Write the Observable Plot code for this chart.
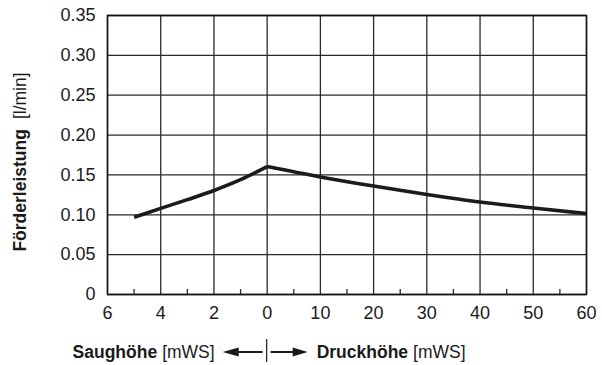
<!DOCTYPE html>
<html>
<head>
<meta charset="utf-8">
<script src="https://cdn.jsdelivr.net/npm/d3@7"></script>
<script src="https://cdn.jsdelivr.net/npm/@observablehq/plot@0.6"></script>
<style>
  html, body { margin: 0; padding: 0; background: #fff; }
  svg { font-family: "Liberation Sans", Arial, sans-serif; }
</style>
</head>
<body>
<div id="chart"></div>
<script>
// Suction side (Saughöhe, mWS) and delivery rate (l/min)
const suctionHead = [5, 4, 3, 2, 1, 0];
const suctionFlow = [0.097, 0.108, 0.119, 0.1305, 0.144, 0.1605];
// Pressure side (Druckhöhe, mWS)
const pressureHead = [0, 10, 20, 30, 40, 50, 60];
const pressureFlow = [0.1605, 0.1475, 0.136, 0.1255, 0.116, 0.1085, 0.1015];

const suctionTicks = [6, 4, 2, 0];
const pressureTicks = [10, 20, 30, 40, 50, 60];
const yTicks = [0, 0.05, 0.10, 0.15, 0.20, 0.25, 0.30, 0.35];

// Each grid interval = 2 mWS on the suction side, 10 mWS on the pressure side
const posS = s => -s / 2;
const posP = p => p / 10;

const data = [
  ...suctionHead.map((h, i) => ({x: posS(h), y: suctionFlow[i], side: "S"})),
  ...pressureHead.map((h, i) => ({x: posP(h), y: pressureFlow[i], side: "P"}))
];

const xTickPos = [...suctionTicks.map(posS), ...pressureTicks.map(posP)];
const xTickLab = [...suctionTicks.map(String), ...pressureTicks.map(String)];
const minorPos = [5, 3, 1].map(posS).concat([5, 15, 25, 35, 45, 55].map(posP));

const gridColor = "#2a2a2a";

const plot = Plot.plot({
  width: 602,
  height: 365,
  marginLeft: 107,
  marginRight: 16,
  marginTop: 15,
  marginBottom: 71,
  style: {fontFamily: "'Liberation Sans', Arial, sans-serif", fontSize: "18px", color: "#1a1a1a"},
  x: {domain: [posS(6), posP(60)], label: null},
  y: {domain: [0, 0.35], label: null},
  marks: [
    Plot.gridY(yTicks, {stroke: gridColor, strokeOpacity: 1, strokeWidth: 1.3}),
    Plot.gridX(xTickPos, {stroke: gridColor, strokeOpacity: 1, strokeWidth: 1.3}),
    Plot.axisX(minorPos, {tickSize: -5, tickFormat: () => "", stroke: gridColor, strokeWidth: 1.3, label: null}),
    Plot.axisY(yTicks, {tickSize: 0, tickPadding: 12, fontSize: 18,
      tickFormat: d => d === 0 ? "0" : d.toFixed(2), label: null}),
    Plot.axisX(xTickPos, {tickSize: 0, tickPadding: 12, fontSize: 18,
      tickFormat: d => xTickLab[xTickPos.indexOf(d)], label: null}),
    Plot.frame({stroke: "#111", strokeWidth: 1.5}),
    Plot.line(data, {x: "x", y: "y", z: "side", curve: "monotone-x",
      stroke: "#1e1a1b", strokeWidth: 3.6, strokeLinecap: "butt"})
  ]
});

document.getElementById("chart").appendChild(plot);

const svg = d3.select(plot);
const xs = plot.scale("x");
const x0 = xs.apply(0);

// Y axis title
const yt = svg.append("text")
  .attr("transform", "translate(26,162) rotate(-90)")
  .attr("text-anchor", "middle")
  .attr("font-size", 17.5)
  .attr("fill", "#1a1a1a");
yt.append("tspan").attr("font-weight", "bold").text("Förderleistung");
yt.append("tspan").attr("dx", 10).text("[l/min]");

// Bottom title
const by = 358;
const left = svg.append("text")
  .attr("x", x0 - 52).attr("y", by)
  .attr("text-anchor", "end").attr("font-size", 17.5).attr("fill", "#1a1a1a");
left.append("tspan").attr("font-weight", "bold").text("Saughöhe");
left.append("tspan").attr("dx", 5).text("[mWS]");

const right = svg.append("text")
  .attr("x", x0 + 50).attr("y", by)
  .attr("text-anchor", "start").attr("font-size", 17.5).attr("fill", "#1a1a1a");
right.append("tspan").attr("font-weight", "bold").text("Druckhöhe");
right.append("tspan").attr("dx", 5).text("[mWS]");

// arrows
const ay = 352;
const g = svg.append("g").attr("fill", "#1a1a1a").attr("stroke", "#1a1a1a");
g.append("line").attr("x1", x0).attr("x2", x0).attr("y1", 339).attr("y2", 362).attr("stroke-width", 1.2);
g.append("line").attr("x1", x0 - 30).attr("x2", x0 - 4).attr("y1", ay).attr("y2", ay).attr("stroke-width", 2);
g.append("path").attr("stroke", "none")
  .attr("d", `M${x0 - 44},${ay} L${x0 - 28},${ay - 4.5} L${x0 - 28},${ay + 4.5} Z`);
g.append("line").attr("x1", x0 + 4).attr("x2", x0 + 28).attr("y1", ay).attr("y2", ay).attr("stroke-width", 2);
g.append("path").attr("stroke", "none")
  .attr("d", `M${x0 + 41},${ay} L${x0 + 26},${ay - 4.5} L${x0 + 26},${ay + 4.5} Z`);
</script>
</body>
</html>
